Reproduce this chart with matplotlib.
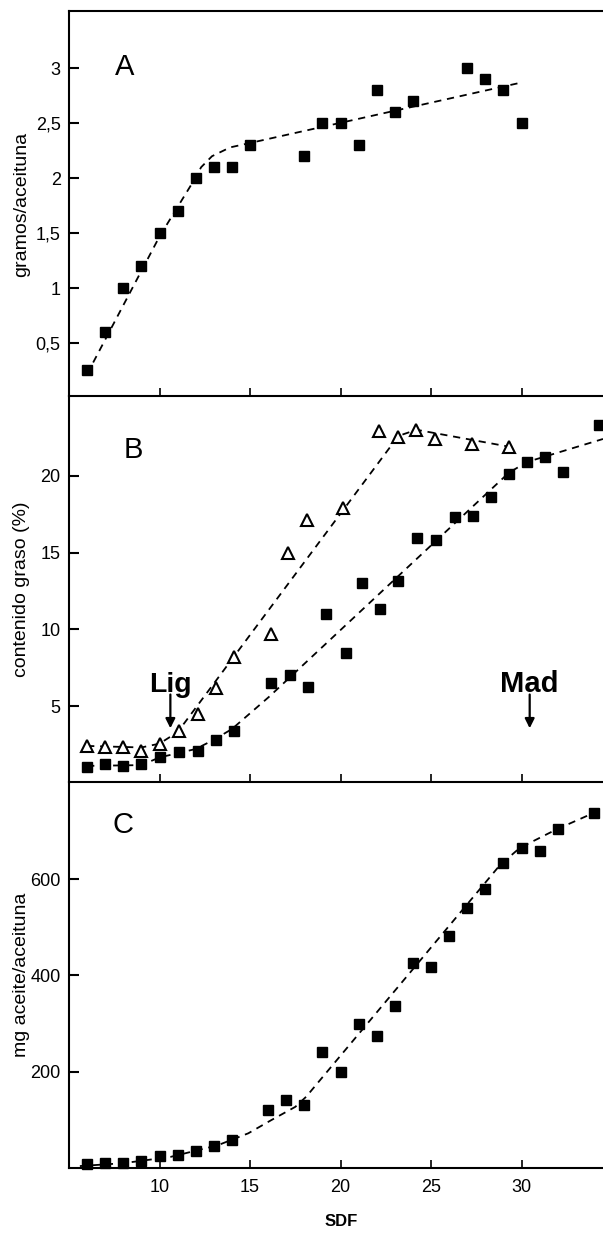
import matplotlib
matplotlib.use("Agg")
import matplotlib.pyplot as plt

plt.rcParams['font.family'] = ['Liberation Sans', 'DejaVu Sans']

# ---------------- data ----------------
# Panel A: fruit weight (g/olive)
a_days = [6, 7, 8, 9, 10, 11, 12, 13, 14, 15, 18, 19, 20, 21, 22, 23, 24, 27, 28, 29, 30]
a_weight = [0.26, 0.6, 1.0, 1.2, 1.5, 1.7, 2.0, 2.1, 2.1, 2.3, 2.2, 2.5, 2.5, 2.3, 2.8, 2.6, 2.7,
            3.0, 2.9, 2.8, 2.5]
a_fit_x = [6, 10, 11.9, 12.3, 12.9, 13.9, 15, 30]
a_fit_y = [0.22, 1.47, 1.98, 2.1, 2.2, 2.28, 2.32, 2.87]

# Panel B: fat content (%)
b_tri_days = [6, 7, 8, 9, 10, 11.05, 12.1, 13.1, 14.1, 16.15, 17.1, 18.15, 20.15, 22.15, 23.2,
              24.15, 25.2, 27.25, 29.3]
b_tri_fat = [2.4, 2.3, 2.3, 2.1, 2.5, 3.4, 4.5, 6.2, 8.2, 9.7, 15.0, 17.1, 17.9, 22.9, 22.5,
             23.0, 22.4, 22.1, 21.9]
b_tri_fit_x = [6, 9, 10, 11, 23.2, 24.2, 29.3]
b_tri_fit_y = [2.4, 2.3, 2.55, 3.3, 22.6, 23.0, 21.9]

b_sq_days = [6, 7, 8, 9, 10.05, 11.05, 12.1, 13.1, 14.1, 16.15, 17.2, 18.2, 19.2, 20.3, 21.2,
             22.2, 23.2, 24.2, 25.25, 26.3, 27.3, 28.3, 29.3, 30.3, 31.3, 32.3, 34.3]
b_sq_fat = [1.05, 1.2, 1.1, 1.2, 1.7, 2.0, 2.05, 2.8, 3.4, 6.5, 7.05, 6.25, 11.0, 8.45, 13.0,
            11.35, 13.15, 15.95, 15.8, 17.3, 17.4, 18.6, 20.15, 20.9, 21.2, 20.25, 23.3]
b_sq_fit_x = [6, 9, 10, 12, 13, 14, 16.05, 29.3, 30.3, 34.5]
b_sq_fit_y = [1.1, 1.15, 1.65, 2.2, 2.8, 3.5, 5.6, 20.2, 20.9, 22.4]

# Panel C: oil per olive (mg)
c_days = [6, 7, 8, 9, 10, 11, 12, 13, 14, 16, 17, 18, 19, 20, 21, 22, 23, 24, 25, 26, 27, 28,
          29, 30, 31, 32, 34]
c_oil = [8, 11, 11, 14, 25, 28, 35, 46, 58, 120, 141, 131, 242, 200, 299, 275, 337, 425, 417,
         481, 540, 580, 634, 665, 659, 705, 738]
c_fit_x = [5.6, 8, 10.6, 13.2, 14.9, 16.2, 17.5, 18.1, 28.8, 29.9, 31.9, 34.0]
c_fit_y = [4, 10, 23, 47, 72, 100, 127, 148, 629, 665, 703, 738]

x_ticks = [10, 15, 20, 25, 30]
a_ticks = [0.5, 1, 1.5, 2, 2.5, 3]
a_ticklabels = ['0,5', '1', '1,5', '2', '2,5', '3']
b_ticks = [5, 10, 15, 20]
c_ticks = [200, 400, 600]

# ---------------- figure ----------------
W, H = 603, 1233
fig = plt.figure(figsize=(W / 100, H / 100), dpi=100)

left = 69 / W
width = (W - 69) / W


def make_ax(top_px, bot_px):
    return fig.add_axes([left, (H - bot_px) / H, width, (bot_px - top_px) / H])


axA = make_ax(11, 396)
axB = make_ax(396, 782)
axC = make_ax(782, 1168)

dash = (0, (4, 3.2))
sq_kw = dict(marker='s', ls='none', ms=6.5, color='black', clip_on=False, zorder=3)
tri_kw = dict(marker='^', ls='none', ms=8, mfc='white', mec='black', mew=1.5,
              clip_on=False, zorder=3)
fit_kw = dict(color='black', lw=1.3, ls=dash, zorder=2)

# Panel A
axA.plot(a_fit_x, a_fit_y, **fit_kw)
axA.plot(a_days, a_weight, **sq_kw)
axA.set_ylim(0.02, 3.52)
axA.set_yticks(a_ticks)
axA.set_yticklabels(a_ticklabels)
axA.text(7.55, 2.94, 'A', fontsize=21, ha='left', va='baseline')

# Panel B
axB.plot(b_tri_fit_x, b_tri_fit_y, **fit_kw)
axB.plot(b_sq_fit_x, b_sq_fit_y, **fit_kw)
axB.plot(b_tri_days, b_tri_fat, **tri_kw)
axB.plot(b_sq_days, b_sq_fat, **sq_kw)
axB.set_ylim(0.05, 25.2)
axB.set_yticks(b_ticks)
axB.text(8.0, 21.13, 'B', fontsize=21, ha='left', va='baseline')
arrow_kw = dict(arrowstyle='-|>', lw=1.6, color='black', mutation_scale=14,
                shrinkA=0, shrinkB=0)
axB.annotate('', xy=(10.6, 3.55), xytext=(10.6, 5.75), arrowprops=arrow_kw)
axB.annotate('', xy=(30.45, 3.55), xytext=(30.45, 5.75), arrowprops=arrow_kw)
axB.text(10.6, 5.93, 'Lig', fontsize=20.5, fontweight='bold', ha='center', va='baseline')
axB.text(30.45, 5.93, 'Mad', fontsize=21, fontweight='bold', ha='center', va='baseline')

# Panel C
axC.plot(c_fit_x, c_fit_y, **fit_kw)
axC.plot(c_days, c_oil, **sq_kw)
axC.set_ylim(0, 802)
axC.set_yticks(c_ticks)
axC.text(7.4, 695, 'C', fontsize=21, ha='left', va='baseline')

for i, ax in enumerate([axA, axB, axC]):
    ax.set_xlim(5, 34.5)
    ax.set_xticks(x_ticks)
    ax.spines['right'].set_visible(False)
    if i > 0:
        ax.spines['top'].set_visible(False)
    for s in ['left', 'bottom', 'top']:
        ax.spines[s].set_linewidth(1.5)
    ax.tick_params(axis='y', direction='in', length=7, width=1.5, pad=6, labelsize=13)
    ax.tick_params(axis='x', direction='in', length=5.5, width=1.2, pad=8, labelsize=13)
    if i < 2:
        ax.tick_params(axis='x', labelbottom=False)
    ax.patch.set_alpha(0)

fig.text(22 / W, 1 - 204 / H, 'gramos/aceituna', rotation=90, ha='center', va='center',
         fontsize=14)
fig.text(22 / W, 1 - 589 / H, 'contenido graso (%)', rotation=90, ha='center', va='center',
         fontsize=14)
fig.text(22 / W, 1 - 975 / H, 'mg aceite/aceituna', rotation=90, ha='center', va='center',
         fontsize=14)
fig.text(341 / W, 1 - 1222 / H, 'SDF', ha='center', va='center', fontsize=12,
         fontweight='bold', family=['Liberation Sans Narrow', 'Liberation Sans'])

fig.savefig('out.png', dpi=100)
